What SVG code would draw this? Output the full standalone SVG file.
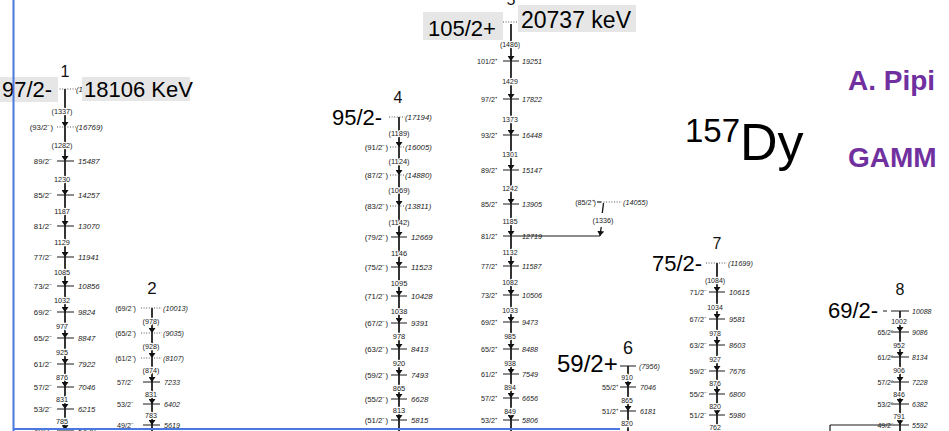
<svg xmlns="http://www.w3.org/2000/svg" width="949" height="431" viewBox="0 0 949 431">
<defs>
<style>
text{font-family:"Liberation Sans",Arial,Helvetica,sans-serif;fill:#222}
.lv{stroke:#1a1a1a;stroke-width:1.2;fill:none}
.ld{stroke:#555;stroke-width:1;stroke-dasharray:1 1.6;fill:none}
.tr{stroke:#111;stroke-width:1.7;fill:none;marker-end:url(#ah)}
.tn{stroke:#111;stroke-width:1.7;fill:none}
.s{text-anchor:end}
.e{font-style:italic}
.g{text-anchor:middle;stroke:#fff;stroke-width:2.4;paint-order:stroke;stroke-linejoin:round}
.big{font-size:22px;fill:#000}
.num{font-size:16px;text-anchor:middle;fill:#111}
.box{fill:#e6e6e6}
.pur{font-size:28px;font-weight:bold;fill:#7030a0}
.frame{stroke:#4a78e0;stroke-width:2;fill:none}
</style>
<marker id="ah" viewBox="0 0 5 7" refX="5" refY="3.5" markerWidth="5" markerHeight="7" markerUnits="userSpaceOnUse" orient="auto"><path d="M0,0L5,3.5L0,7z" fill="#111"/></marker>
</defs>
<rect width="949" height="431" fill="#fff"/>

<g id="connectors">
<path class="tr" d="M65,89V127"/><path class="tr" d="M65,127V161"/><path class="tr" d="M65,161V195"/><path class="tr" d="M65,195V226"/><path class="tr" d="M65,226V257"/><path class="tr" d="M65,257V286"/><path class="tr" d="M65,286V312"/><path class="tr" d="M65,312V338"/><path class="tr" d="M65,338V364"/><path class="tr" d="M65,364V387"/><path class="tr" d="M65,387V409"/><path class="tr" d="M65,409V430"/>
<path class="tr" d="M152,308V333"/><path class="tr" d="M152,333V358"/><path class="tr" d="M152,358V382"/><path class="tr" d="M152,382V404"/><path class="tr" d="M152,404V425"/><path class="tn" d="M152,425V431"/>
<path class="tr" d="M399,117V147"/><path class="tr" d="M399,147V175"/><path class="tr" d="M399,175V206"/><path class="tr" d="M399,206V237"/><path class="tr" d="M399,237V267"/><path class="tr" d="M399,267V296"/><path class="tr" d="M399,296V323"/><path class="tr" d="M399,323V349"/><path class="tr" d="M399,349V375"/><path class="tr" d="M399,375V399"/><path class="tr" d="M399,399V420"/><path class="tn" d="M399,420V431"/>
<path class="tr" d="M511,24V61"/><path class="tr" d="M511,61V99"/><path class="tr" d="M511,99V135"/><path class="tr" d="M511,135V170"/><path class="tr" d="M511,170V204"/><path class="tr" d="M511,204V236"/><path class="tr" d="M511,236V266"/><path class="tr" d="M511,266V295"/><path class="tr" d="M511,295V322"/><path class="tr" d="M511,322V349"/><path class="tr" d="M511,349V374"/><path class="tr" d="M511,374V398"/><path class="tr" d="M511,398V420"/><path class="tn" d="M511,420V431"/>
<path class="tn" d="M603.5,203L602.3,213" style="stroke-width:1.3"/><path class="tr" d="M601.2,227L600,236" style="stroke-width:1.3"/>
<path class="tr" d="M628,366V387"/><path class="tr" d="M628,387V411"/><path class="tn" d="M628,411V431"/>
<path class="tr" d="M717,263V292"/><path class="tr" d="M717,292V319"/><path class="tr" d="M717,319V345"/><path class="tr" d="M717,345V371"/><path class="tr" d="M717,371V394"/><path class="tr" d="M717,394V415"/><path class="tn" d="M717,415V431"/>
<path class="tr" d="M900,311V332"/><path class="tr" d="M900,332V357"/><path class="tr" d="M900,357V382"/><path class="tr" d="M900,382V404"/><path class="tr" d="M900,404V425"/><path class="tn" d="M900,425V431"/>
</g>

<g id="band1" font-size="7.8">
<path class="ld" d="M57,89H76M57,127H76"/>
<path class="lv" d="M57,161H74M57,195H74M57,226H74M57,257H74M57,286H74M57,312H74M57,338H74M57,364H74M57,387H74M57,409H74M57,430H74"/>
<text class="e" x="76" y="91.5">(1</text>
<text class="s" x="53" y="129.5">(93/2⁻)</text><text class="e" x="76" y="129.5">(16769)</text>
<text class="s" x="52" y="163.5">89/2⁻</text><text class="e" x="78" y="163.5">15487</text>
<text class="s" x="52" y="197.5">85/2⁻</text><text class="e" x="78" y="197.5">14257</text>
<text class="s" x="52" y="228.5">81/2⁻</text><text class="e" x="78" y="228.5">13070</text>
<text class="s" x="52" y="259.5">77/2⁻</text><text class="e" x="78" y="259.5">11941</text>
<text class="s" x="52" y="288.5">73/2⁻</text><text class="e" x="78" y="288.5">10856</text>
<text class="s" x="52" y="314.5">69/2⁻</text><text class="e" x="78" y="314.5">9824</text>
<text class="s" x="52" y="340.5">65/2⁻</text><text class="e" x="78" y="340.5">8847</text>
<text class="s" x="52" y="366.5">61/2⁻</text><text class="e" x="78" y="366.5">7922</text>
<text class="s" x="52" y="389.5">57/2⁻</text><text class="e" x="78" y="389.5">7046</text>
<text class="s" x="52" y="411.5">53/2⁻</text><text class="e" x="78" y="411.5">6215</text>
<text class="s" x="52" y="433.5">49/2⁻</text><text class="e" x="78" y="433.5">5430</text>
<g font-size="7.3">
<text class="g" x="62" y="113.5">(1337)</text><text class="g" x="62" y="147.5">(1282)</text><text class="g" x="62" y="181.5">1230</text><text class="g" x="62" y="213.5">1187</text><text class="g" x="62" y="244.5">1129</text><text class="g" x="62" y="274.5">1085</text><text class="g" x="62" y="302.5">1032</text><text class="g" x="62" y="328.5">977</text><text class="g" x="62" y="354.5">925</text><text class="g" x="62" y="379.5">876</text><text class="g" x="62" y="401.5">831</text><text class="g" x="62" y="423.5">785</text>
</g>
<text class="num" x="65" y="77">1</text>
<rect class="box" x="0" y="77" width="58" height="25"/>
<text class="big" x="2" y="97">97/2-</text>
<rect class="box" x="82" y="77" width="108" height="24"/>
<text class="big" x="84" y="97">18106 KeV</text>
</g>

<g id="band2" font-size="7.2">
<path class="ld" d="M141,308H162M141,333H162M141,358H162"/>
<path class="lv" d="M143,382H160M143,404H160M143,425H160"/>
<text class="s" x="136" y="310.5">(69/2⁻)</text><text class="e" x="163" y="310.5">(10013)</text>
<text class="s" x="136" y="335.5">(65/2⁻)</text><text class="e" x="163" y="335.5">(9035)</text>
<text class="s" x="136" y="360.5">(61/2⁻)</text><text class="e" x="163" y="360.5">(8107)</text>
<text class="s" x="133" y="384.5">57/2⁻</text><text class="e" x="164" y="384.5">7233</text>
<text class="s" x="133" y="406.5">53/2⁻</text><text class="e" x="164" y="406.5">6402</text>
<text class="s" x="133" y="427.5">49/2⁻</text><text class="e" x="164" y="427.5">5619</text>
<text class="g" x="151" y="323.5">(978)</text><text class="g" x="151" y="348.5">(928)</text><text class="g" x="151" y="372.5">(874)</text><text class="g" x="151" y="396.5">831</text><text class="g" x="151" y="417.5">783</text>
<text class="num" x="152" y="294" style="font-size:17px">2</text>
</g>

<g id="band3">
<text class="num" x="305" y="443">3</text>
</g>

<g id="band4" font-size="7.8">
<path class="ld" d="M389,117H405M390,147H405M390,175H405M390,206H405"/>
<path class="lv" d="M391,237H407M391,267H407M391,296H407M391,323H407M391,349H407M391,375H407M391,399H407M391,420H407"/>
<text class="e" x="405" y="119.5">(17194)</text>
<text class="s" x="388" y="149.5">(91/2⁻)</text><text class="e" x="405" y="149.5">(16005)</text>
<text class="s" x="388" y="177.5">(87/2⁻)</text><text class="e" x="405" y="177.5">(14880)</text>
<text class="s" x="388" y="208.5">(83/2⁻)</text><text class="e" x="405" y="208.5">(13811)</text>
<text class="s" x="388" y="239.5">(79/2⁻)</text><text class="e" x="411" y="239.5">12669</text>
<text class="s" x="388" y="269.5">(75/2⁻)</text><text class="e" x="411" y="269.5">11523</text>
<text class="s" x="388" y="298.5">(71/2⁻)</text><text class="e" x="411" y="298.5">10428</text>
<text class="s" x="388" y="325.5">(67/2⁻)</text><text class="e" x="411" y="325.5">9391</text>
<text class="s" x="388" y="351.5">(63/2⁻)</text><text class="e" x="411" y="351.5">8413</text>
<text class="s" x="388" y="377.5">(59/2⁻)</text><text class="e" x="411" y="377.5">7493</text>
<text class="s" x="388" y="401.5">(55/2⁻)</text><text class="e" x="411" y="401.5">6628</text>
<text class="s" x="388" y="422.5">(51/2⁻)</text><text class="e" x="411" y="422.5">5815</text>
<g font-size="7.5">
<text class="g" x="399" y="135.5">(1189)</text><text class="g" x="399" y="163.5">(1124)</text><text class="g" x="399" y="192.5">(1069)</text><text class="g" x="399" y="224.5">(1142)</text><text class="g" x="399" y="255.5">1146</text><text class="g" x="399" y="285.5">1095</text><text class="g" x="399" y="313.5">1038</text><text class="g" x="399" y="338.5">978</text><text class="g" x="399" y="365.5">920</text><text class="g" x="399" y="390.5">865</text><text class="g" x="399" y="412.5">813</text>
</g>
<text class="num" x="398" y="103">4</text>
<text class="big" x="332" y="125">95/2-</text>
</g>

<g id="band5" font-size="7.2">
<path class="ld" d="M503,22H518"/>
<path class="lv" d="M503,61H519M503,99H519M503,135H519M503,170H519M503,204H519M503,236H600M503,266H519M503,295H519M503,322H519M503,349H519M503,374H519M503,398H519M503,420H519"/>
<text class="s" x="497" y="63.5">101/2⁺</text><text class="e" x="522" y="63.5">19251</text>
<text class="s" x="497" y="101.5">97/2⁺</text><text class="e" x="522" y="101.5">17822</text>
<text class="s" x="497" y="137.5">93/2⁺</text><text class="e" x="522" y="137.5">16448</text>
<text class="s" x="497" y="172.5">89/2⁺</text><text class="e" x="522" y="172.5">15147</text>
<text class="s" x="497" y="206.5">85/2⁺</text><text class="e" x="522" y="206.5">13905</text>
<text class="s" x="497" y="238.5">81/2⁺</text><text class="e" x="522" y="238.5">12719</text>
<text class="s" x="497" y="268.5">77/2⁺</text><text class="e" x="522" y="268.5">11587</text>
<text class="s" x="497" y="297.5">73/2⁺</text><text class="e" x="522" y="297.5">10506</text>
<text class="s" x="497" y="324.5">69/2⁺</text><text class="e" x="522" y="324.5">9473</text>
<text class="s" x="497" y="351.5">65/2⁺</text><text class="e" x="522" y="351.5">8488</text>
<text class="s" x="497" y="376.5">61/2⁺</text><text class="e" x="522" y="376.5">7549</text>
<text class="s" x="497" y="400.5">57/2⁺</text><text class="e" x="522" y="400.5">6656</text>
<text class="s" x="497" y="422.5">53/2⁺</text><text class="e" x="522" y="422.5">5806</text>
<g font-size="7">
<text class="g" x="510" y="46.5">(1486)</text><text class="g" x="510" y="83.5">1429</text><text class="g" x="510" y="121.5">1373</text><text class="g" x="510" y="156.5">1301</text><text class="g" x="510" y="190.5">1242</text><text class="g" x="510" y="223.5">1185</text><text class="g" x="510" y="254.5">1132</text><text class="g" x="510" y="284.5">1082</text><text class="g" x="510" y="312.5">1033</text><text class="g" x="510" y="338.5">985</text><text class="g" x="510" y="365.5">938</text><text class="g" x="510" y="389.5">894</text><text class="g" x="510" y="413.5">849</text>
</g>
<text class="num" x="511" y="5">5</text>
<rect class="box" x="423" y="12" width="80" height="28"/>
<text class="big" x="428" y="36">105/2+</text>
<rect class="box" x="518" y="5" width="118" height="27"/>
<text class="big" x="521" y="28" style="font-size:23px">20737 keV</text>
</g>

<g id="side8552" font-size="7.2">
<path class="lv" d="M597,202H601"/>
<path class="ld" d="M601,202H622"/>
<text class="s" x="596" y="204.5">(85/2⁺)</text>
<text class="e" x="623" y="204.5">(14055)</text>
<text class="g" x="603" y="222.5">(1336)</text>
</g>

<g id="band6" font-size="7.2">
<path class="lv" d="M620,366H636M620,387H636M620,411H636"/>
<text class="e" x="639" y="368.5">(7956)</text>
<text class="s" x="618" y="389.5">55/2⁺</text><text class="e" x="640" y="389.5">7046</text>
<text class="s" x="618" y="413.5">51/2⁺</text><text class="e" x="640" y="413.5">6181</text>
<g font-size="7">
<text class="g" x="627" y="379.5">910</text><text class="g" x="627" y="403">865</text><text class="g" x="627" y="426">820</text>
</g>
<text class="num" x="628" y="354" style="font-size:18px">6</text>
<text class="big" x="557" y="372" style="font-size:24px">59/2+</text>
</g>

<g id="band7" font-size="7.4">
<path class="ld" d="M706,263H727"/>
<path class="lv" d="M709,292H725M709,319H725M709,345H725M709,371H725M709,394H725M709,415H725"/>
<text class="e" x="728" y="265.5">(11699)</text>
<text class="s" x="707" y="294.5">71/2⁻</text><text class="e" x="729" y="294.5">10615</text>
<text class="s" x="707" y="321.5">67/2⁻</text><text class="e" x="729" y="321.5">9581</text>
<text class="s" x="707" y="347.5">63/2⁻</text><text class="e" x="729" y="347.5">8603</text>
<text class="s" x="707" y="373.5">59/2⁻</text><text class="e" x="729" y="373.5">7676</text>
<text class="s" x="707" y="396.5">55/2⁻</text><text class="e" x="729" y="396.5">6800</text>
<text class="s" x="707" y="417.5">51/2⁻</text><text class="e" x="729" y="417.5">5980</text>
<g font-size="7">
<text class="g" x="715" y="282.5">(1084)</text><text class="g" x="715" y="309.5">1034</text><text class="g" x="715" y="335.5">978</text><text class="g" x="715" y="361.5">927</text><text class="g" x="715" y="385.5">876</text><text class="g" x="715" y="408.5">820</text><text class="g" x="715" y="429.5">762</text>
</g>
<text class="num" x="717" y="249">7</text>
<text class="big" x="652" y="271">75/2-</text>
</g>

<g id="band8" font-size="7">
<path class="lv" d="M891,311H909M891,332H909M891,357H909M891,382H909M891,404H909M830,425H909M830,425V431M883,311H887"/>
<text class="e" x="912" y="313.5">10088</text>
<text class="s" x="893" y="334.5">65/2⁻</text><text class="e" x="912" y="334.5">9086</text>
<text class="s" x="893" y="359.5">61/2⁻</text><text class="e" x="912" y="359.5">8134</text>
<text class="s" x="893" y="384.5">57/2⁻</text><text class="e" x="912" y="384.5">7228</text>
<text class="s" x="893" y="406.5">53/2⁻</text><text class="e" x="912" y="406.5">6382</text>
<text class="s" x="893" y="427.5">49/2⁻</text><text class="e" x="912" y="427.5">5592</text>
<text class="g" x="899" y="323.5">1002</text><text class="g" x="899" y="347.5">952</text><text class="g" x="899" y="372.5">906</text><text class="g" x="899" y="396.5">846</text><text class="g" x="899" y="418.5">791</text>
<text class="num" x="900" y="295">8</text>
<text class="big" x="828" y="318">69/2-</text>
</g>

<g id="title">
<text x="685" y="160" fill="#000"><tspan font-size="33" dy="-18" style="fill:#000">157</tspan><tspan font-size="52" dy="18" style="fill:#000">Dy</tspan></text>
<text class="pur" x="848" y="90">A. Pipi</text>
<text class="pur" x="848" y="167">GAMM</text>
</g>

<g id="frame">
<path class="frame" d="M13.5,0V431M13,429H620"/>
</g>
</svg>
